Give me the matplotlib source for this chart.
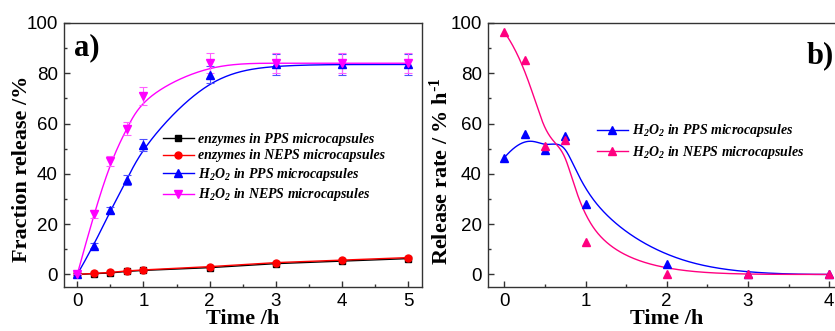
import numpy as np
import matplotlib
matplotlib.use('Agg')
import matplotlib.pyplot as plt
from matplotlib.lines import Line2D

# panel a) cumulative release
time_a = [0, 0.25, 0.5, 0.75, 1, 2, 3, 4, 5]
enz_pps = [0, 0.3, 0.6, 1.2, 1.6, 2.7, 4.3, 5.3, 6.3]
enz_neps = [0, 0.4, 0.8, 1.4, 1.8, 3.1, 4.7, 5.7, 6.7]
h2o2_pps = [0, 11.5, 25.5, 37.5, 51.5, 79.5, 83.5, 83.5, 83.5]
h2o2_pps_err = [0, 1.0, 1.2, 2.0, 2.5, 3.5, 4.2, 4.2, 4.2]
h2o2_neps = [0, 24, 45, 58, 71, 84, 84, 84, 84]
h2o2_neps_err = [0, 1.5, 2.0, 2.5, 3.5, 4.0, 4.0, 4.0, 4.0]

# panel b) release rate
time_b = [0, 0.25, 0.5, 0.75, 1, 2, 3, 4]
rate_pps = [46.4, 55.8, 49.3, 55.1, 28.1, 4.1, 0, 0]
rate_neps = [96.4, 85.2, 51.2, 53.3, 12.8, 0.1, 0, 0]

plt.rcParams['font.family'] = ['Liberation Sans', 'DejaVu Sans']
plt.rcParams['mathtext.default'] = 'regular'

BLUE = '#0000ff'
MAG = '#ff00ff'
PINK = '#ff0080'
RED = '#ff0000'
SPINE = '#333333'


def bspline(xs, ys, k=3, num=400):
    # clamped uniform B-spline using the data points as control points (Origin style)
    xs = np.asarray(xs, float)
    ys = np.asarray(ys, float)
    n = len(xs)
    t = np.concatenate([np.zeros(k), np.arange(n - k + 1), np.full(k, n - k)]).astype(float)
    u = np.linspace(0, n - k, num)

    def basis(i, p):
        if p == 0:
            b = ((t[i] <= u) & (u < t[i + 1])).astype(float)
            if t[i + 1] == t[-1] and t[i] < t[i + 1]:
                b[u == t[-1]] = 1.0
            return b
        out = np.zeros_like(u)
        if t[i + p] > t[i]:
            out += (u - t[i]) / (t[i + p] - t[i]) * basis(i, p - 1)
        if t[i + p + 1] > t[i + 1]:
            out += (t[i + p + 1] - u) / (t[i + p + 1] - t[i + 1]) * basis(i + 1, p - 1)
        return out

    B = np.array([basis(i, k) for i in range(n)])
    return B.T @ xs, B.T @ ys


def style_axes(ax, xmax, xticks):
    ax.set_xlim(-0.2, xmax)
    ax.set_ylim(-5, 100)
    ax.set_xticks(xticks)
    ax.set_yticks([0, 20, 40, 60, 80, 100])
    ax.set_xticks(np.arange(0.5, xmax, 1), minor=True)
    ax.set_yticks(np.arange(10, 100, 20), minor=True)
    ax.tick_params(which='both', direction='in', top=False, right=False,
                   labelsize=13.5, color=SPINE, width=1)
    ax.tick_params(which='major', length=4, pad=4.5)
    ax.tick_params(which='minor', length=2.5)
    for s in ax.spines.values():
        s.set_color(SPINE)
        s.set_linewidth(1)
    ax.set_xlabel('Time /h', fontsize=16, fontweight='bold', family='Liberation Serif')
    ax.xaxis.set_label_coords(0.5, -0.082)


fig = plt.figure(figsize=(8.35, 3.31), dpi=100)
ax1 = fig.add_axes([64 / 835, 44 / 331, 357.7 / 835, 264 / 331])
ax2 = fig.add_axes([488 / 835, 44 / 331, 357.5 / 835, 264 / 331])

# --- a)
ax1.plot(time_a, enz_pps, color='black', lw=1, marker='s', ms=5, zorder=3)
ax1.plot(time_a, enz_neps, color=RED, lw=1, marker='o', ms=5, zorder=3)

bx, by = bspline(time_a, h2o2_pps)
ax1.plot(bx, by, color=BLUE, lw=1)
ax1.errorbar(time_a, h2o2_pps, yerr=h2o2_pps_err, fmt='^', color=BLUE, ms=6,
             ecolor='#5050ff', elinewidth=0.8, capsize=3, capthick=0.8, zorder=4)
bx, by = bspline(time_a, h2o2_neps)
ax1.plot(bx, by, color=MAG, lw=1)
ax1.errorbar(time_a, h2o2_neps, yerr=h2o2_neps_err, fmt='v', color=MAG, ms=6,
             ecolor='#ff60ff', elinewidth=0.8, capsize=3, capthick=0.8, zorder=4)

style_axes(ax1, 5.2, [0, 1, 2, 3, 4, 5])
ax1.set_ylabel('Fraction release /%', fontsize=16, fontweight='bold',
               family='Liberation Serif')
ax1.yaxis.set_label_coords(-0.09, 0.447)
ax1.text(0.065, 0.905, 'a)', transform=ax1.transAxes, fontsize=22, fontweight='bold',
         family='Liberation Serif', ha='center', va='center')

handles_a = [
    Line2D([], [], color='black', lw=1, marker='s', ms=5),
    Line2D([], [], color=RED, lw=1, marker='o', ms=5),
    Line2D([], [], color=BLUE, lw=1, marker='^', ms=6),
    Line2D([], [], color=MAG, lw=1, marker='v', ms=6),
]
labels_a = ['enzymes in PPS microcapsules', 'enzymes in NEPS microcapsules',
            r'$H_2O_2$ in PPS microcapsules', r'$H_2O_2$ in NEPS microcapsules']
ax1.legend(handles_a, labels_a, loc='center left', bbox_to_anchor=(0.277, 0.45),
           frameon=False, borderpad=0, borderaxespad=0, handlelength=2.2,
           handletextpad=0.3, labelspacing=0.25, numpoints=1,
           prop={'family': 'Liberation Serif', 'weight': 'bold', 'style': 'italic', 'size': 10})

# --- b)
bx, by = bspline(time_b, rate_pps)
ax2.plot(bx, by, color=BLUE, lw=1)
ax2.plot(time_b, rate_pps, '^', color=BLUE, ms=6, zorder=4)
bx, by = bspline(time_b, rate_neps)
ax2.plot(bx, by, color=PINK, lw=1)
ax2.plot(time_b, rate_neps, '^', color=PINK, ms=6, zorder=4)

style_axes(ax2, 4.2, [0, 1, 2, 3, 4])
ax2.set_ylabel(r'Release rate / % h$^{\text{-}1}$', fontsize=16, fontweight='bold',
               family='Liberation Serif')
ax2.yaxis.set_label_coords(-0.098, 0.4375)
ax2.text(0.93, 0.875, 'b)', transform=ax2.transAxes, fontsize=22, fontweight='bold',
         family='Liberation Serif', ha='center', va='center')

handles_b = [
    Line2D([], [], color=BLUE, lw=1, marker='^', ms=6),
    Line2D([], [], color=PINK, lw=1, marker='^', ms=6),
]
labels_b = [r'$H_2O_2$ in PPS microcapsules', r'$H_2O_2$ in NEPS microcapsules']
ax2.legend(handles_b, labels_b, loc='center left', bbox_to_anchor=(0.305, 0.55),
           frameon=False, borderpad=0, borderaxespad=0, handlelength=2.2,
           handletextpad=0.3, labelspacing=0.35, numpoints=1,
           prop={'family': 'Liberation Serif', 'weight': 'bold', 'style': 'italic', 'size': 10})

fig.savefig('out.png', dpi=100)
